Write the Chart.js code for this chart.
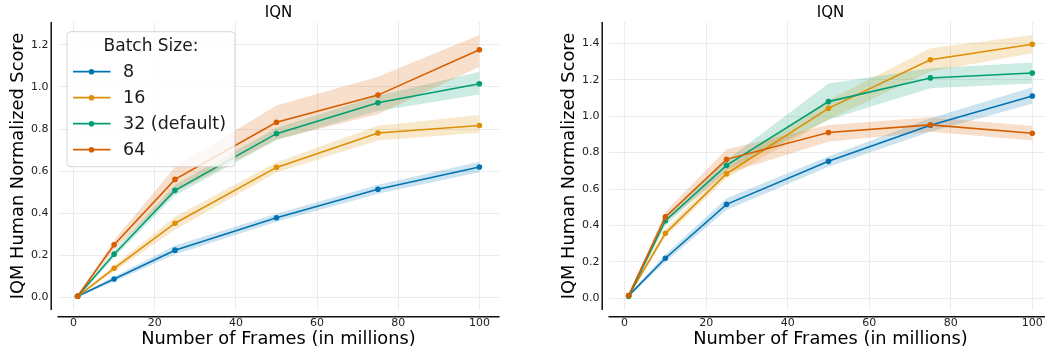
<!DOCTYPE html>
<html>
<head>
<meta charset="utf-8">
<script src="https://cdn.jsdelivr.net/npm/chart.js@4.4.1/dist/chart.umd.min.js"></script>
<style>
  html, body { margin: 0; padding: 0; background: #fff; overflow: hidden; width: 1045px; height: 358px; }
  canvas { position: absolute; top: 0; }
  #c1 { left: 0; }
  #c2 { left: 551px; }
</style>
</head>
<body>
<canvas id="c1" width="525" height="358"></canvas>
<canvas id="c2" width="527" height="358"></canvas>
<script>
// ---- shared ----
const frames = [1, 10, 25, 50, 75, 100];
const batchLabels = ['8', '16', '32 (default)', '64'];
const seriesColors = ['#0173b2', '#de8f05', '#029e73', '#d55e00'];
const xTickValues = [0, 20, 40, 60, 80, 100];
const yTickValuesLeft = [0, 0.2, 0.4, 0.6, 0.8, 1.0, 1.2];
const yTickValuesRight = [0, 0.2, 0.4, 0.6, 0.8, 1.0, 1.2, 1.4];

// ---- left panel: IQM scores and confidence bands ----
const leftMean8  = [0.006, 0.088, 0.225, 0.379, 0.514, 0.620];
const leftLo8    = [0.002, 0.076, 0.205, 0.360, 0.493, 0.595];
const leftHi8    = [0.010, 0.100, 0.247, 0.398, 0.536, 0.645];
const leftMean16 = [0.006, 0.139, 0.353, 0.618, 0.781, 0.817];
const leftLo16   = [0.002, 0.124, 0.322, 0.594, 0.745, 0.782];
const leftHi16   = [0.010, 0.153, 0.384, 0.642, 0.815, 0.866];
const leftMean32 = [0.006, 0.206, 0.509, 0.778, 0.925, 1.015];
const leftLo32   = [0.002, 0.190, 0.485, 0.748, 0.885, 0.964];
const leftHi32   = [0.010, 0.222, 0.535, 0.805, 0.958, 1.072];
const leftMean64 = [0.006, 0.251, 0.561, 0.832, 0.961, 1.176];
const leftLo64   = [0.002, 0.228, 0.500, 0.750, 0.870, 1.096];
const leftHi64   = [0.010, 0.273, 0.620, 0.912, 1.048, 1.246];

// ---- right panel: IQM scores and confidence bands ----
const rightMean8  = [0.015, 0.220, 0.516, 0.752, 0.950, 1.111];
const rightLo8    = [0.008, 0.200, 0.485, 0.723, 0.915, 1.068];
const rightHi8    = [0.022, 0.240, 0.549, 0.778, 0.988, 1.159];
const rightMean16 = [0.015, 0.357, 0.684, 1.043, 1.310, 1.395];
const rightLo16   = [0.008, 0.335, 0.659, 0.980, 1.245, 1.345];
const rightHi16   = [0.022, 0.380, 0.714, 1.089, 1.373, 1.446];
const rightMean32 = [0.011, 0.426, 0.730, 1.080, 1.210, 1.237];
const rightLo32   = [0.004, 0.400, 0.705, 0.980, 1.153, 1.180];
const rightHi32   = [0.018, 0.450, 0.760, 1.180, 1.263, 1.294];
const rightMean64 = [0.016, 0.447, 0.763, 0.910, 0.952, 0.906];
const rightLo64   = [0.008, 0.420, 0.686, 0.860, 0.915, 0.866];
const rightHi64   = [0.024, 0.475, 0.818, 0.952, 0.994, 0.946];

const FONT = 'DejaVu Sans';

function toPoints(values) {
  return values.map((v, i) => ({ x: frames[i], y: v }));
}

function withAlpha(hex, a) {
  const n = parseInt(hex.slice(1), 16);
  return `rgba(${(n >> 16) & 255}, ${(n >> 8) & 255}, ${n & 255}, ${a})`;
}

function buildDatasets(series) {
  const ds = [];
  series.forEach((s, i) => {
    const c = seriesColors[i];
    ds.push({
      label: batchLabels[i],
      data: toPoints(s.mean),
      borderColor: c,
      backgroundColor: c,
      pointBackgroundColor: c,
      pointBorderColor: c,
      borderWidth: 1.6,
      pointRadius: 2.8,
      pointBorderWidth: 0,
      pointHoverRadius: 0,
      tension: 0,
      fill: false,
      order: 3 - i
    });
  });
  series.forEach((s, i) => {
    const c = seriesColors[i];
    ds.push({
      data: toPoints(s.lo),
      borderColor: 'transparent',
      borderWidth: 0,
      pointRadius: 0,
      fill: false,
      order: 13 - i
    });
    ds.push({
      data: toPoints(s.hi),
      borderColor: 'transparent',
      borderWidth: 0,
      pointRadius: 0,
      backgroundColor: withAlpha(c, 0.2),
      fill: '-1',
      order: 13 - i
    });
  });
  return ds;
}

// Title, offset spines and the boxed legend
function decorPlugin(title, showLegend) {
  return {
    id: 'decor',
    afterDraw(chart) {
      const { ctx, chartArea: ca, data } = chart;
      ctx.save();
      // title
      ctx.fillStyle = '#000';
      ctx.font = `15px "${FONT}"`;
      ctx.textAlign = 'center';
      ctx.textBaseline = 'middle';
      ctx.fillText(title, (ca.left + ca.right) / 2, 13);

      // offset spines
      ctx.strokeStyle = '#111';
      ctx.lineWidth = 1.5;
      ctx.beginPath();
      ctx.moveTo(ca.left - 6.3, ca.top);
      ctx.lineTo(ca.left - 6.3, ca.bottom);
      ctx.moveTo(ca.left, ca.bottom + 6.7);
      ctx.lineTo(ca.right, ca.bottom + 6.7);
      ctx.stroke();

      if (showLegend) {
        const lx = ca.left + 9.5, ly = ca.top + 9.7, lw = 168, lh = 135, r = 4;
        ctx.beginPath();
        ctx.moveTo(lx + r, ly);
        ctx.arcTo(lx + lw, ly, lx + lw, ly + lh, r);
        ctx.arcTo(lx + lw, ly + lh, lx, ly + lh, r);
        ctx.arcTo(lx, ly + lh, lx, ly, r);
        ctx.arcTo(lx, ly, lx + lw, ly, r);
        ctx.closePath();
        ctx.fillStyle = 'rgba(255,255,255,0.8)';
        ctx.fill();
        ctx.strokeStyle = 'rgba(204,204,204,0.8)';
        ctx.lineWidth = 1;
        ctx.stroke();

        ctx.fillStyle = '#1a1a1a';
        ctx.font = `17px "${FONT}"`;
        ctx.textAlign = 'center';
        ctx.fillText('Batch Size:', lx + lw / 2, ly + 14.5);

        ctx.textAlign = 'left';
        ctx.font = `17.5px "${FONT}"`;
        for (let i = 0; i < batchLabels.length; i++) {
          const ds = data.datasets[i];
          const yy = ly + 40 + i * 26;
          ctx.strokeStyle = ds.borderColor;
          ctx.lineWidth = 1.8;
          ctx.beginPath();
          ctx.moveTo(lx + 6, yy);
          ctx.lineTo(lx + 43.5, yy);
          ctx.stroke();
          ctx.fillStyle = ds.borderColor;
          ctx.beginPath();
          ctx.arc(lx + 24.5, yy, 2.8, 0, Math.PI * 2);
          ctx.fill();
          ctx.fillStyle = '#1a1a1a';
          ctx.fillText(ds.label, lx + 56, yy + 1);
        }
      }
      ctx.restore();
    }
  };
}

function makeChart(canvasId, series, yMin, yMax, yTicks, showLegend) {
  const gridColor = '#ececec';
  return new Chart(document.getElementById(canvasId), {
    type: 'line',
    data: { datasets: buildDatasets(series) },
    options: {
      responsive: false,
      animation: false,
      events: [],
      layout: { padding: { left: 0, right: 25.5, top: 22, bottom: 0 } },
      plugins: {
        legend: { display: false },
        title: { display: false },
        tooltip: { enabled: false },
        filler: { propagate: false }
      },
      scales: {
        x: {
          type: 'linear',
          min: -3.95,
          max: 104.95,
          afterBuildTicks: s => { s.ticks = xTickValues.map(v => ({ value: v })); },
          afterFit: s => { s.height = 48; },
          grid: { color: gridColor, lineWidth: 1, drawTicks: false },
          border: { display: false },
          ticks: {
            padding: 7,
            color: '#222',
            autoSkip: false,
            maxRotation: 0,
            font: { family: FONT, size: 11 },
            callback: v => String(v)
          },
          title: {
            display: true,
            text: 'Number of Frames (in millions)',
            color: '#000',
            font: { family: FONT, size: 17.8 },
            padding: { top: 0, bottom: 8.3 }
          }
        },
        y: {
          min: yMin,
          max: yMax,
          afterBuildTicks: s => { s.ticks = yTicks.map(v => ({ value: v })); },
          afterFit: s => { s.width = 57.5; },
          grid: { color: gridColor, lineWidth: 1, drawTicks: false },
          border: { display: false },
          ticks: {
            padding: 9,
            color: '#222',
            font: { family: FONT, size: 11 },
            callback: v => Number(v).toFixed(1)
          },
          title: {
            display: true,
            text: 'IQM Human Normalized Score',
            color: '#000',
            font: { family: FONT, size: 17.8 },
            padding: { top: 8.1, bottom: 0 }
          }
        }
      }
    },
    plugins: [decorPlugin('IQN', showLegend)]
  });
}

makeChart('c1', [
  { mean: leftMean8,  lo: leftLo8,  hi: leftHi8 },
  { mean: leftMean16, lo: leftLo16, hi: leftHi16 },
  { mean: leftMean32, lo: leftLo32, hi: leftHi32 },
  { mean: leftMean64, lo: leftLo64, hi: leftHi64 }
], -0.059, 1.308, yTickValuesLeft, true);

makeChart('c2', [
  { mean: rightMean8,  lo: rightLo8,  hi: rightHi8 },
  { mean: rightMean16, lo: rightLo16, hi: rightHi16 },
  { mean: rightMean32, lo: rightLo32, hi: rightHi32 },
  { mean: rightMean64, lo: rightLo64, hi: rightHi64 }
], -0.064, 1.517, yTickValuesRight, false);
</script>
</body>
</html>
